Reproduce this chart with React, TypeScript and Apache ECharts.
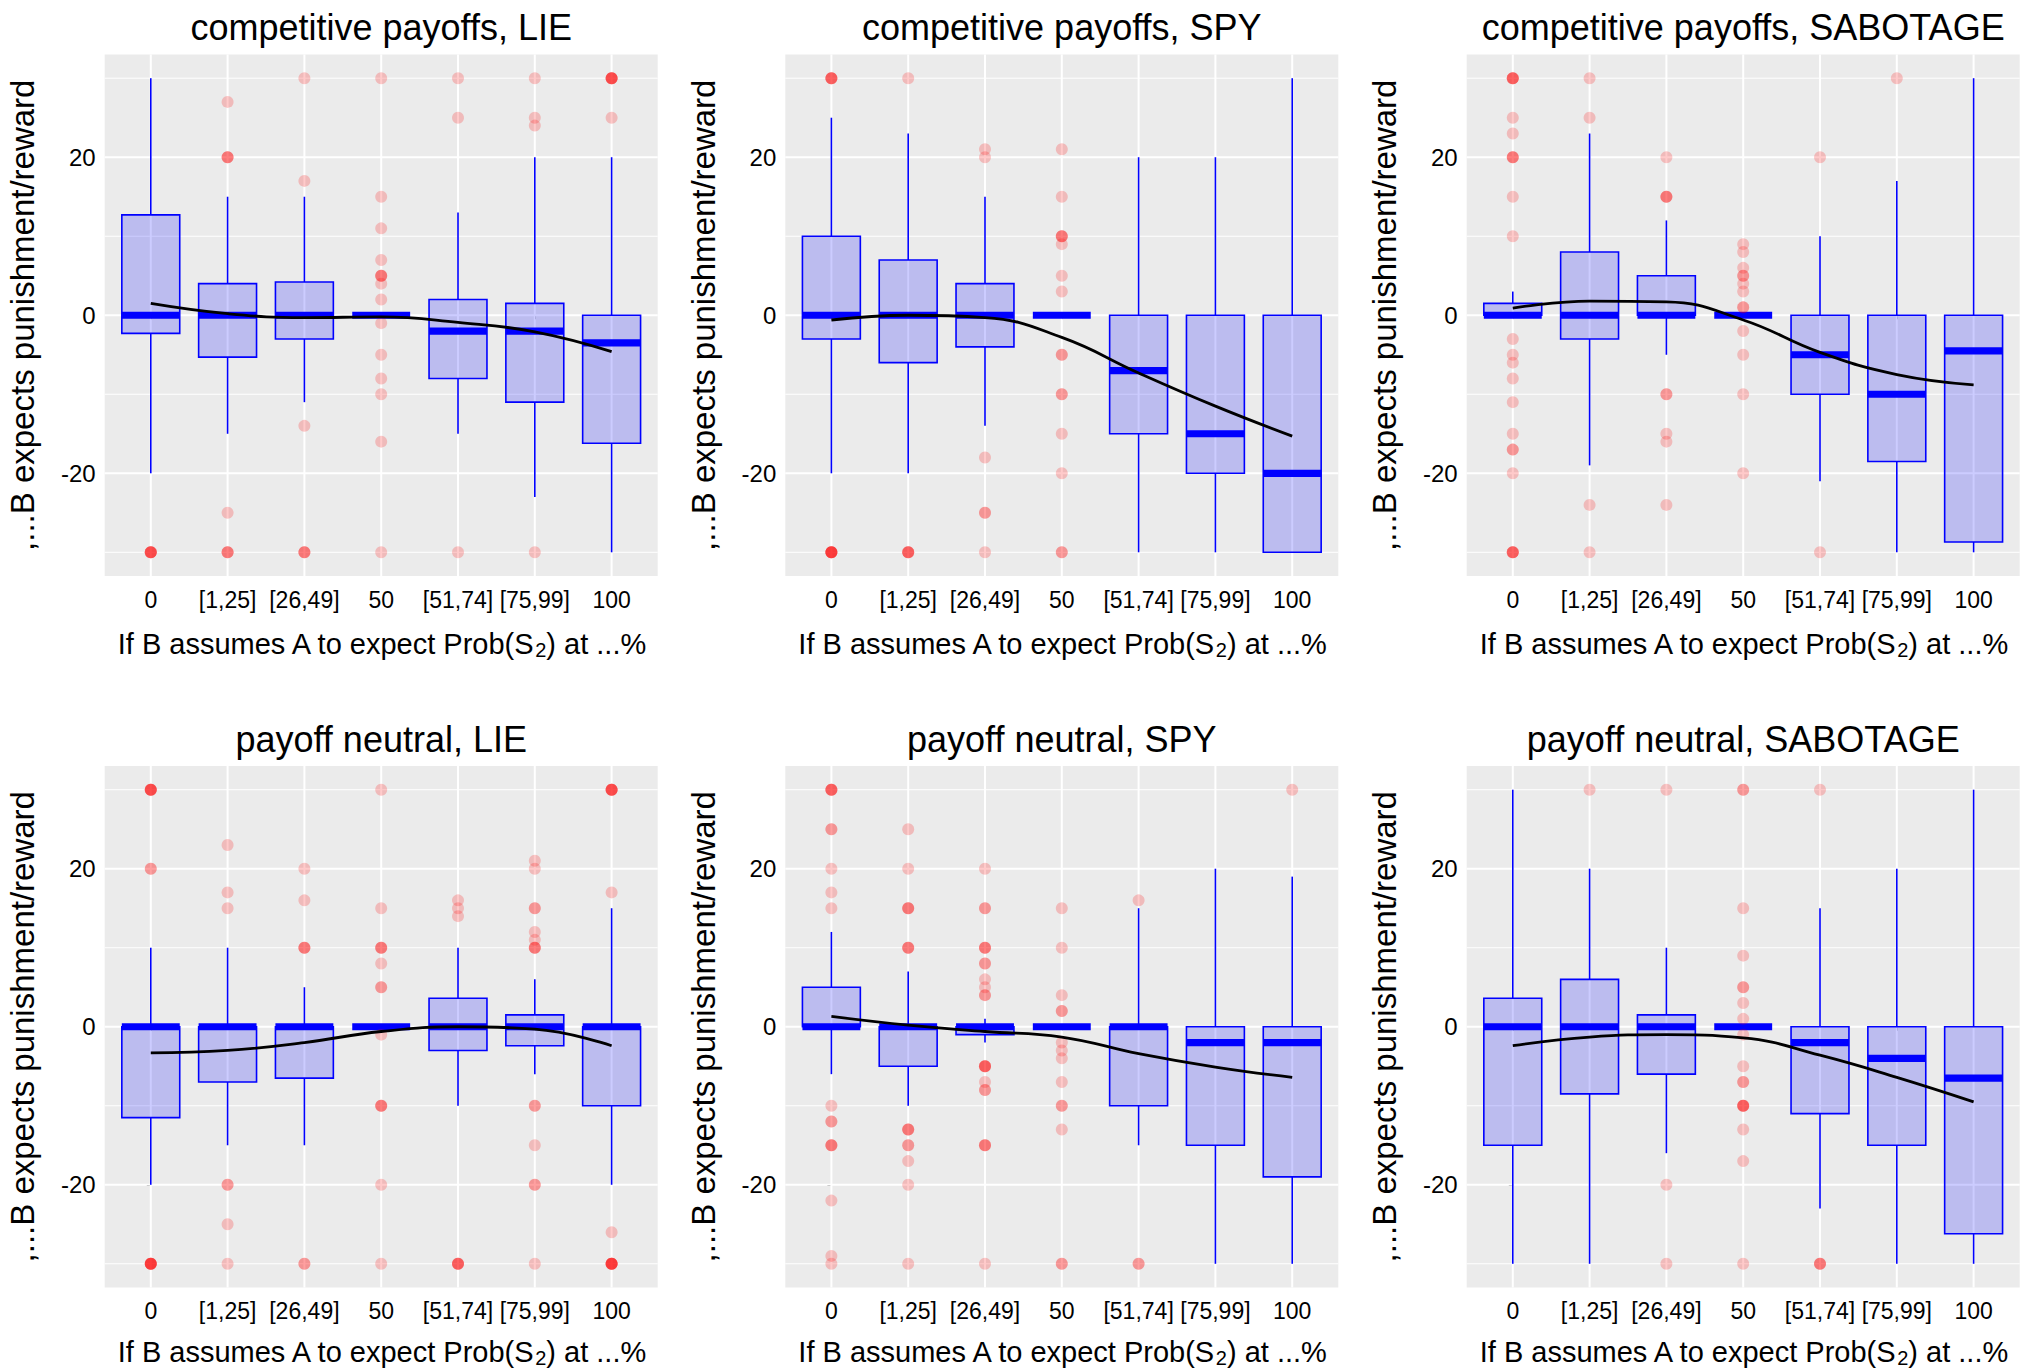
import React, { useEffect, useRef } from "react";
import * as echarts from "echarts";

// ---------- data ----------
const CATEGORIES = ["0", "[1,25]", "[26,49]", "50", "[51,74]", "[75,99]", "100"];
const PANEL_TITLES = [
  "competitive payoffs, LIE",
  "competitive payoffs, SPY",
  "competitive payoffs, SABOTAGE",
  "payoff neutral, LIE",
  "payoff neutral, SPY",
  "payoff neutral, SABOTAGE",
];
const Y_TITLE = ",...B expects punishment/reward";
const Y_TICKS = [-20, 0, 20];
const Y_MINOR = [-30, -10, 10, 30];

// box stats per category: [lower whisker, Q1, median, Q3, upper whisker]
const COMP_LIE_STATS = [
  [-20, -2.3, 0, 12.7, 30],
  [-15, -5.3, 0, 4, 15],
  [-11, -3, 0, 4.2, 15],
  [0, 0, 0, 0, 0],
  [-15, -8, -2, 2, 13],
  [-23, -11, -2, 1.5, 20],
  [-30, -16.2, -3.5, 0, 20],
];
const COMP_SPY_STATS = [
  [-20, -3, 0, 10, 25],
  [-20, -6, 0, 7, 23],
  [-14, -4, 0, 4, 15],
  [0, 0, 0, 0, 0],
  [-30, -15, -7, 0, 20],
  [-30, -20, -15, 0, 20],
  [-30, -30, -20, 0, 30],
];
const COMP_SAB_STATS = [
  [0, 0, 0, 1.5, 3],
  [-19, -3, 0, 8, 23],
  [-5, 0, 0, 5, 12],
  [0, 0, 0, 0, 0],
  [-21, -10, -5, 0, 10],
  [-30, -18.5, -10, 0, 17],
  [-30, -28.7, -4.5, 0, 30],
];
const NEUT_LIE_STATS = [
  [-20, -11.5, 0, 0, 10],
  [-15, -7, 0, 0, 10],
  [-15, -6.5, 0, 0, 5],
  [0, 0, 0, 0, 0],
  [-10, -3, 0, 3.6, 10],
  [-6, -2.4, 0, 1.5, 6],
  [-20, -10, 0, 0, 15],
];
const NEUT_SPY_STATS = [
  [-6, 0, 0, 5, 12],
  [-10, -5, 0, 0, 7],
  [-2, -1, 0, 0, 1],
  [0, 0, 0, 0, 0],
  [-15, -10, 0, 0, 15],
  [-30, -15, -2, 0, 20],
  [-30, -19, -2, 0, 19],
];
const NEUT_SAB_STATS = [
  [-30, -15, 0, 3.6, 30],
  [-30, -8.5, 0, 6, 20],
  [-16, -6, 0, 1.5, 10],
  [0, 0, 0, 0, 0],
  [-23, -11, -2, 0, 15],
  [-30, -15, -4, 0, 20],
  [-30, -26.2, -6.5, 0, 30],
];

// outliers: [category index, value, number of overlapping observations]
const COMP_LIE_OUT = [
  [0, -30, 5],
  [1, 27, 1], [1, 20, 3], [1, -25, 1], [1, -30, 3],
  [2, 30, 1], [2, 17, 1], [2, -14, 1], [2, -30, 3],
  [3, 30, 1], [3, 15, 1], [3, 11, 1], [3, 7, 1], [3, 5, 3], [3, 4, 1], [3, 2, 1], [3, -1, 1],
  [3, -5, 1], [3, -8, 1], [3, -10, 1], [3, -16, 1], [3, -30, 1],
  [4, 30, 1], [4, 25, 1], [4, -30, 1],
  [5, 30, 1], [5, 25, 1], [5, 24, 1], [5, -30, 1],
  [6, 30, 5], [6, 25, 1],
];
const COMP_SPY_OUT = [
  [0, 30, 4], [0, -30, 6],
  [1, 30, 1], [1, -30, 4],
  [2, 21, 1], [2, 20, 1], [2, -18, 1], [2, -25, 2], [2, -30, 1],
  [3, 21, 1], [3, 15, 1], [3, 10, 3], [3, 9, 1], [3, 5, 1], [3, 3, 1], [3, -5, 2], [3, -10, 2],
  [3, -15, 1], [3, -20, 1], [3, -30, 2],
];
const COMP_SAB_OUT = [
  [0, 30, 4], [0, 25, 1], [0, 23, 1], [0, 20, 3], [0, 15, 1], [0, 10, 1], [0, -3, 1], [0, -5, 1],
  [0, -6, 1], [0, -8, 1], [0, -11, 1], [0, -15, 1], [0, -17, 2], [0, -20, 1], [0, -30, 4],
  [1, 30, 1], [1, 25, 1], [1, -24, 1], [1, -30, 1],
  [2, 20, 1], [2, 15, 3], [2, -10, 2], [2, -15, 1], [2, -16, 1], [2, -24, 1],
  [3, 9, 1], [3, 8, 1], [3, 6, 1], [3, 5, 2], [3, 4, 1], [3, 3, 1], [3, 1, 2], [3, -2, 1],
  [3, -5, 1], [3, -10, 1], [3, -20, 1],
  [4, 20, 1], [4, -30, 1],
  [5, 30, 1],
];
const NEUT_LIE_OUT = [
  [0, 30, 5], [0, 20, 2], [0, -30, 6],
  [1, 23, 1], [1, 17, 1], [1, 15, 1], [1, -20, 2], [1, -25, 1], [1, -30, 1],
  [2, 20, 1], [2, 16, 1], [2, 10, 3], [2, -30, 2],
  [3, 30, 1], [3, 15, 1], [3, 10, 3], [3, 8, 1], [3, 5, 2], [3, -1, 1], [3, -10, 3], [3, -20, 1], [3, -30, 1],
  [4, 16, 1], [4, 15, 1], [4, 14, 1], [4, -30, 4],
  [5, 21, 1], [5, 20, 1], [5, 15, 2], [5, 12, 1], [5, 11, 1], [5, 10, 3], [5, -10, 2], [5, -15, 1],
  [5, -20, 2], [5, -30, 1],
  [6, 30, 5], [6, 17, 1], [6, -26, 1], [6, -30, 6],
];
const NEUT_SPY_OUT = [
  [0, 30, 4], [0, 25, 2], [0, 20, 1], [0, 17, 1], [0, 15, 1], [0, -10, 1], [0, -12, 2], [0, -15, 3],
  [0, -22, 1], [0, -29, 1], [0, -30, 1],
  [1, 25, 1], [1, 20, 1], [1, 15, 3], [1, 10, 3], [1, -13, 3], [1, -15, 2], [1, -17, 1], [1, -20, 1], [1, -30, 1],
  [2, 20, 1], [2, 15, 2], [2, 10, 3], [2, 8, 2], [2, 6, 1], [2, 5, 1], [2, 4, 2], [2, -5, 4], [2, -7, 1],
  [2, -8, 2], [2, -15, 3], [2, -30, 1],
  [3, 15, 1], [3, 10, 1], [3, 4, 1], [3, 2, 2], [3, -2, 1], [3, -3, 1], [3, -4, 1], [3, -7, 1],
  [3, -10, 2], [3, -13, 1], [3, -30, 2],
  [4, 16, 1], [4, -30, 2],
  [6, 30, 1],
];
const NEUT_SAB_OUT = [
  [1, 30, 1],
  [2, 30, 1], [2, -20, 1], [2, -30, 1],
  [3, 30, 2], [3, 15, 1], [3, 9, 1], [3, 5, 2], [3, 3, 1], [3, 1, 1], [3, -1, 1], [3, -5, 1],
  [3, -7, 2], [3, -10, 4], [3, -13, 1], [3, -17, 1], [3, -30, 1],
  [4, 30, 1], [4, -30, 3],
];

// smoothed trend (loess) evaluated at each category
const COMP_LIE_SMOOTH = [1.5, 0.2, -0.3, -0.2, -0.9, -2.1, -4.6];
const COMP_SPY_SMOOTH = [-0.6, 0, -0.3, -2.8, -7.3, -11.5, -15.3];
const COMP_SAB_SMOOTH = [0.9, 1.8, 1.7, -0.6, -4.7, -7.5, -8.8];
const NEUT_LIE_SMOOTH = [-3.3, -3, -2, -0.6, 0, -0.3, -2.4];
const NEUT_SPY_SMOOTH = [1.3, 0.2, -0.6, -1.3, -3.4, -5.1, -6.4];
const NEUT_SAB_SMOOTH = [-2.4, -1.3, -1, -1.4, -3.6, -6.4, -9.5];

const PANELS = [
  { stats: COMP_LIE_STATS, out: COMP_LIE_OUT, smooth: COMP_LIE_SMOOTH },
  { stats: COMP_SPY_STATS, out: COMP_SPY_OUT, smooth: COMP_SPY_SMOOTH },
  { stats: COMP_SAB_STATS, out: COMP_SAB_OUT, smooth: COMP_SAB_SMOOTH },
  { stats: NEUT_LIE_STATS, out: NEUT_LIE_OUT, smooth: NEUT_LIE_SMOOTH },
  { stats: NEUT_SPY_STATS, out: NEUT_SPY_OUT, smooth: NEUT_SPY_SMOOTH },
  { stats: NEUT_SAB_STATS, out: NEUT_SAB_OUT, smooth: NEUT_SAB_SMOOTH },
];

// ---------- layout ----------
const W = 2028;
const H = 1371;
const COL_LEFT = [104.7, 785.3, 1466.7];
const ROW_TOP = [54.5, 766];
const XTITLE_GAP = [68, 64];
const PANEL_W = 553;
const PANEL_H = 521.5;
const FONT = "'Liberation Sans', Arial, Helvetica, sans-serif";
const BLUE = "#0000FF";

function gridRender(params: any, api: any) {
  const kind = api.value(0);
  const v = api.value(1);
  const cs = params.coordSys;
  if (kind === 2) {
    const p = api.coord([v, 0]);
    return {
      type: "line",
      shape: { x1: p[0], y1: cs.y, x2: p[0], y2: cs.y + cs.height },
      style: { stroke: "#FFFFFF", lineWidth: 2 },
    };
  }
  const p = api.coord([0, v]);
  return {
    type: "line",
    shape: { x1: cs.x, y1: p[1], x2: cs.x + cs.width, y2: p[1] },
    style: { stroke: "#FFFFFF", lineWidth: kind === 1 ? 2 : 1 },
  };
}

function boxRender(params: any, api: any) {
  const x = api.value(0);
  const lo = api.value(1);
  const q1 = api.value(2);
  const med = api.value(3);
  const q3 = api.value(4);
  const hi = api.value(5);
  const pLo = api.coord([x, lo]);
  const pQ1 = api.coord([x, q1]);
  const pMed = api.coord([x, med]);
  const pQ3 = api.coord([x, q3]);
  const pHi = api.coord([x, hi]);
  const half = api.size([1, 0])[0] * 0.377;
  const cx = pMed[0];
  const children: any[] = [];
  if (hi > q3) {
    children.push({
      type: "line",
      shape: { x1: cx, y1: pHi[1], x2: cx, y2: pQ3[1] },
      style: { stroke: BLUE, lineWidth: 1.6 },
    });
  }
  if (lo < q1) {
    children.push({
      type: "line",
      shape: { x1: cx, y1: pQ1[1], x2: cx, y2: pLo[1] },
      style: { stroke: BLUE, lineWidth: 1.6 },
    });
  }
  if (q3 > q1) {
    children.push({
      type: "rect",
      shape: { x: cx - half, y: pQ3[1], width: half * 2, height: pQ1[1] - pQ3[1] },
      style: { fill: "rgba(0,0,255,0.2)", stroke: BLUE, lineWidth: 1.6 },
    });
  }
  children.push({
    type: "rect",
    shape: { x: cx - half, y: pMed[1] - 3.6, width: half * 2, height: 7.2 },
    style: { fill: BLUE },
  });
  return { type: "group", children };
}

function buildOption() {
  const grid: any[] = [];
  const xAxis: any[] = [];
  const yAxis: any[] = [];
  const series: any[] = [];
  const graphic: any[] = [];

  PANELS.forEach((panel, i) => {
    const col = i % 3;
    const row = Math.floor(i / 3);
    const left = COL_LEFT[col];
    const top = ROW_TOP[row];
    grid.push({
      left,
      top,
      width: PANEL_W,
      height: PANEL_H,
      show: true,
      backgroundColor: "#EBEBEB",
      borderWidth: 0,
      containLabel: false,
    });
    const catIdx = CATEGORIES.map((_, k) => k);
    xAxis.push({
      type: "value",
      gridIndex: i,
      min: -0.6,
      max: 6.6,
      axisLine: { show: false },
      axisTick: { show: true, length: 4, customValues: catIdx, lineStyle: { color: "#333333", width: 1 } },
      axisLabel: {
        customValues: catIdx,
        formatter: (v: number) => CATEGORIES[Math.round(v)] ?? "",
        fontSize: 23,
        color: "#000000",
        fontFamily: FONT,
        margin: 12,
      },
      splitLine: { show: false },
    });
    yAxis.push({
      type: "value",
      gridIndex: i,
      min: -33,
      max: 33,
      axisLine: { show: false },
      axisTick: { show: true, length: 4, customValues: Y_TICKS, lineStyle: { color: "#333333", width: 1 } },
      axisLabel: {
        customValues: Y_TICKS,
        fontSize: 24,
        color: "#000000",
        fontFamily: FONT,
        margin: 9,
      },
      splitLine: { show: false },
    });

    const gridData: number[][] = [];
    Y_MINOR.forEach((v) => gridData.push([0, v]));
    Y_TICKS.forEach((v) => gridData.push([1, v]));
    catIdx.forEach((v) => gridData.push([2, v]));
    series.push({
      type: "custom",
      xAxisIndex: i,
      yAxisIndex: i,
      z: 1,
      silent: true,
      renderItem: gridRender,
      data: gridData,
      encode: { x: 0, y: 1 },
    });

    series.push({
      type: "custom",
      xAxisIndex: i,
      yAxisIndex: i,
      z: 3,
      silent: true,
      renderItem: boxRender,
      data: panel.stats.map((s, k) => [k, ...s]),
      encode: { x: 0, y: [1, 2, 3, 4, 5] },
    });

    const pts: number[][] = [];
    panel.out.forEach(([c, v, n]) => {
      for (let r = 0; r < n; r++) pts.push([c, v]);
    });
    series.push({
      type: "scatter",
      xAxisIndex: i,
      yAxisIndex: i,
      z: 4,
      silent: true,
      symbol: "circle",
      symbolSize: 12,
      itemStyle: { color: "rgba(255,0,0,0.26)" },
      data: pts,
    });

    series.push({
      type: "line",
      xAxisIndex: i,
      yAxisIndex: i,
      z: 5,
      silent: true,
      smooth: 0.45,
      symbol: "none",
      lineStyle: { color: "#000000", width: 2.8 },
      data: panel.smooth.map((v, k) => [k, v]),
    });

    const cx = left + PANEL_W / 2;
    graphic.push({
      type: "text",
      x: cx,
      y: top - 27,
      style: {
        text: PANEL_TITLES[i],
        fontSize: 36,
        fontFamily: FONT,
        fill: "#000000",
        align: "center",
        verticalAlign: "middle",
      },
    });
    graphic.push({
      type: "text",
      x: left - 82,
      y: top + PANEL_H / 2,
      rotation: Math.PI / 2,
      style: {
        text: Y_TITLE,
        fontSize: 33,
        fontFamily: FONT,
        fill: "#000000",
        align: "center",
        verticalAlign: "middle",
      },
    });
    graphic.push({
      type: "text",
      x: cx,
      y: top + PANEL_H + XTITLE_GAP[row],
      style: {
        text: "If B assumes A to expect Prob(S{sub|2}) at ...%",
        fontSize: 29,
        fontFamily: FONT,
        fill: "#000000",
        align: "center",
        verticalAlign: "middle",
        rich: {
          sub: { fontSize: 20, fontFamily: FONT, fill: "#000000", padding: [12, 0, 0, 0] },
        },
      },
    });
  });

  return {
    animation: false,
    backgroundColor: "#FFFFFF",
    grid,
    xAxis,
    yAxis,
    series,
    graphic,
  };
}

export default function App() {
  const ref = useRef<HTMLDivElement>(null);
  useEffect(() => {
    if (!ref.current) return;
    const chart = echarts.init(ref.current, undefined, { renderer: "svg", width: W, height: H });
    chart.setOption(buildOption() as any);
    return () => chart.dispose();
  }, []);
  return (
    <div
      ref={ref}
      style={{ position: "absolute", left: 0, top: 0, width: W, height: H, background: "#FFFFFF" }}
    />
  );
}
